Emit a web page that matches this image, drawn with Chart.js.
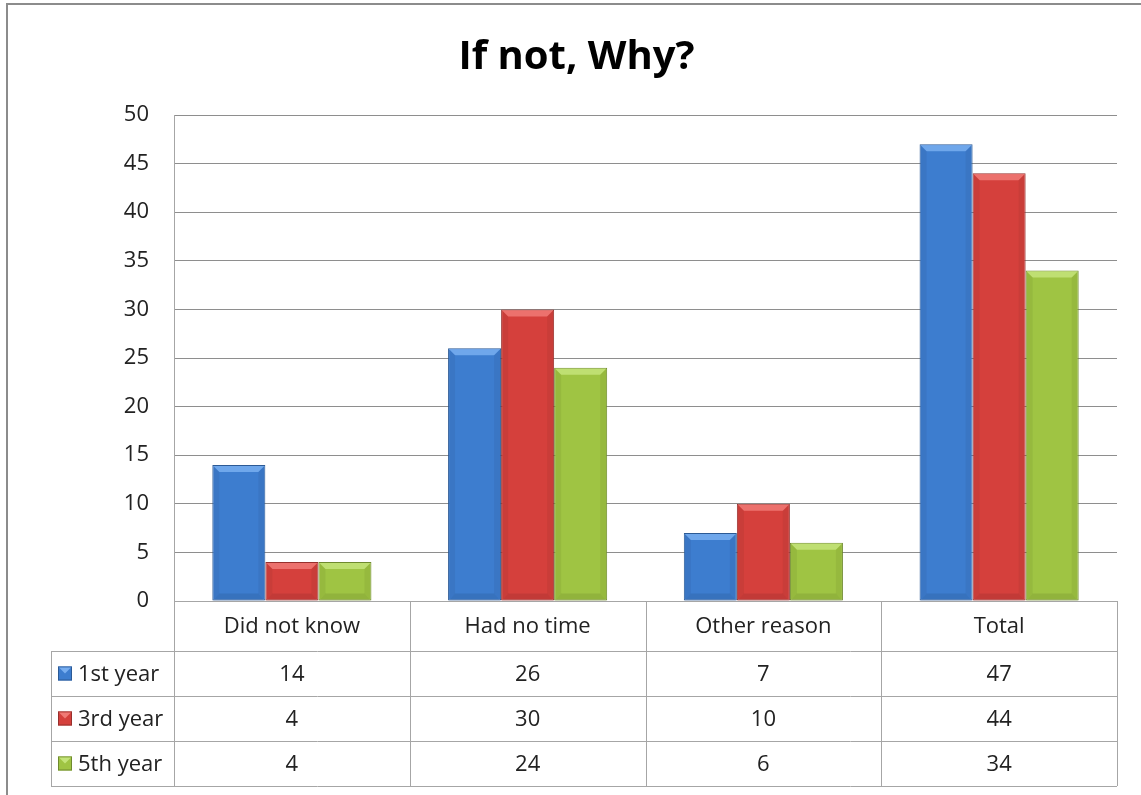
<!DOCTYPE html>
<html>
<head>
<meta charset="utf-8">
<title>If not, Why?</title>
<script src="https://cdn.jsdelivr.net/npm/chart.js@4.4.1/dist/chart.umd.min.js"></script>
<style>
  html, body { margin: 0; padding: 0; background: #fff; }
  #wrap { width: 1141px; height: 795px; position: relative; }
</style>
</head>
<body>
<div id="wrap"><canvas id="why"></canvas></div>
<script>
const categories = ['Did not know', 'Had no time', 'Other reason', 'Total'];
const seriesNames = ['1st year', '3rd year', '5th year'];
const firstYear = [14, 26, 7, 47];
const thirdYear = [4, 30, 10, 44];
const fifthYear = [4, 24, 6, 34];

const fills = ['#3d7dcf', '#d5403c', '#9fc443'];
const edges = ['#2c5a95', '#97302d', '#6f8a2e'];
const lights = ['#78aef0', '#f07a75', '#c4e47a'];

const FONT = '"Open Sans", "DejaVu Sans", sans-serif';
const GRID = '#8e8e8e';
const TABLE = '#a6a6a6';

// cadre gris autour du graphique
const frame = {
  id: 'frame',
  beforeDraw(chart) {
    const ctx = chart.ctx;
    ctx.save();
    ctx.strokeStyle = '#8c8c8c';
    ctx.lineWidth = 2;
    ctx.strokeRect(7, 4, 2000, 2000);
    ctx.restore();
  }
};

// effet biseauté sur les barres
const bevel = {
  id: 'bevel',
  afterDatasetsDraw(chart) {
    const ctx = chart.ctx;
    chart.data.datasets.forEach((ds, di) => {
      chart.getDatasetMeta(di).data.forEach(bar => {
        const w = bar.width;
        const l = bar.x - w / 2, r = bar.x + w / 2;
        const t = bar.y, b = bar.base;
        const s = Math.min(7, (b - t) / 2);
        ctx.save();
        // dessus clair
        ctx.fillStyle = lights[di];
        ctx.globalAlpha = 0.85;
        ctx.beginPath();
        ctx.moveTo(l + 1, t + 1);
        ctx.lineTo(r - 1, t + 1);
        ctx.lineTo(r - s, t + s);
        ctx.lineTo(l + s, t + s);
        ctx.closePath();
        ctx.fill();
        // côtés un peu plus sombres
        ctx.globalAlpha = 0.18;
        ctx.fillStyle = edges[di];
        ctx.beginPath();
        ctx.moveTo(l + 1, t + 1);
        ctx.lineTo(l + s, t + s);
        ctx.lineTo(l + s, b - s);
        ctx.lineTo(l + 1, b);
        ctx.closePath();
        ctx.fill();
        ctx.beginPath();
        ctx.moveTo(r - 1, t + 1);
        ctx.lineTo(r - s, t + s);
        ctx.lineTo(r - s, b - s);
        ctx.lineTo(r - 1, b);
        ctx.closePath();
        ctx.fill();
        ctx.globalAlpha = 0.3;
        ctx.beginPath();
        ctx.moveTo(l + 1, b);
        ctx.lineTo(l + s, b - s);
        ctx.lineTo(r - s, b - s);
        ctx.lineTo(r - 1, b);
        ctx.closePath();
        ctx.fill();
        ctx.restore();
      });
    });
  }
};

// tableau de données sous l'axe des x
const dataTable = {
  id: 'dataTable',
  afterDraw(chart) {
    const ctx = chart.ctx;
    const x = chart.scales.x;
    const area = chart.chartArea;
    const n = categories.length;
    const cw = (area.right - area.left) / n;
    const top = area.bottom;
    const headH = 50, rowH = 45;
    const leftCol = 51;
    const rows = [firstYear, thirdYear, fifthYear];
    const bottom = top + headH + rowH * rows.length;
    const crisp = v => Math.round(v) + 0.5;

    ctx.save();
    ctx.strokeStyle = TABLE;
    ctx.lineWidth = 1;
    ctx.beginPath();
    // lignes horizontales
    ctx.moveTo(area.left, crisp(top));
    ctx.lineTo(area.right, crisp(top));
    for (let i = 0; i <= rows.length; i++) {
      const yy = crisp(top + headH + rowH * i);
      ctx.moveTo(leftCol, yy);
      ctx.lineTo(area.right, yy);
    }
    // lignes verticales
    for (let i = 0; i <= n; i++) {
      const xx = crisp(area.left + cw * i);
      ctx.moveTo(xx, top);
      ctx.lineTo(xx, bottom);
    }
    ctx.moveTo(crisp(leftCol), top + headH);
    ctx.lineTo(crisp(leftCol), bottom);
    ctx.stroke();

    ctx.fillStyle = '#222';
    ctx.font = '22px ' + FONT;
    ctx.textAlign = 'center';
    ctx.textBaseline = 'middle';
    categories.forEach((c, i) => {
      ctx.fillText(c, x.getPixelForValue(i), top + headH / 2 + 1);
    });
    rows.forEach((vals, r) => {
      const cy = top + headH + rowH * r + rowH / 2 + 1;
      vals.forEach((v, i) => {
        ctx.fillText(String(v), x.getPixelForValue(i), cy);
      });
      // clé de légende
      const kx = leftCol + 7, ky = cy - 8, k = 14;
      ctx.fillStyle = fills[r];
      ctx.fillRect(kx, ky, k, k);
      ctx.strokeStyle = edges[r];
      ctx.strokeRect(kx + 0.5, ky + 0.5, k - 1, k - 1);
      ctx.fillStyle = lights[r];
      ctx.beginPath();
      ctx.moveTo(kx + 1, ky + 1);
      ctx.lineTo(kx + k - 1, ky + 1);
      ctx.lineTo(kx + k / 2, ky + k / 2);
      ctx.closePath();
      ctx.fill();
      ctx.fillStyle = '#222';
      ctx.textAlign = 'left';
      ctx.fillText(seriesNames[r], kx + k + 6, cy);
      ctx.textAlign = 'center';
    });
    ctx.restore();
  }
};

const ctx = document.getElementById('why').getContext('2d');
new Chart(ctx, {
  type: 'bar',
  data: {
    labels: categories,
    datasets: [firstYear, thirdYear, fifthYear].map((vals, i) => ({
      label: seriesNames[i],
      data: vals,
      backgroundColor: fills[i],
      borderColor: edges[i],
      borderWidth: 1,
      borderSkipped: false,
      categoryPercentage: 0.675,
      barPercentage: 1.0
    }))
  },
  options: {
    responsive: true,
    maintainAspectRatio: false,
    animation: false,
    layout: { padding: { left: 36, top: 0, right: 24, bottom: 194 } },
    plugins: {
      legend: { display: false },
      tooltip: { enabled: false },
      title: {
        display: true,
        text: 'If not, Why?',
        color: '#000',
        font: { family: FONT, size: 40, weight: 'bold', lineHeight: 1.2 },
        padding: { top: 34, bottom: 33 }
      }
    },
    scales: {
      x: {
        ticks: { display: false },
        grid: { display: false, drawTicks: false },
        border: { display: false },
        afterFit(scale) { scale.height = 0; }
      },
      y: {
        min: 0,
        max: 50,
        ticks: {
          stepSize: 5,
          color: '#222',
          padding: 25,
          font: { family: FONT, size: 22 }
        },
        grid: { color: GRID, drawTicks: false, lineWidth: 1 },
        border: { display: true, color: TABLE, width: 1 },
        afterFit(scale) { scale.width = 138; }
      }
    }
  },
  plugins: [frame, bevel, dataTable]
});
</script>
</body>
</html>
